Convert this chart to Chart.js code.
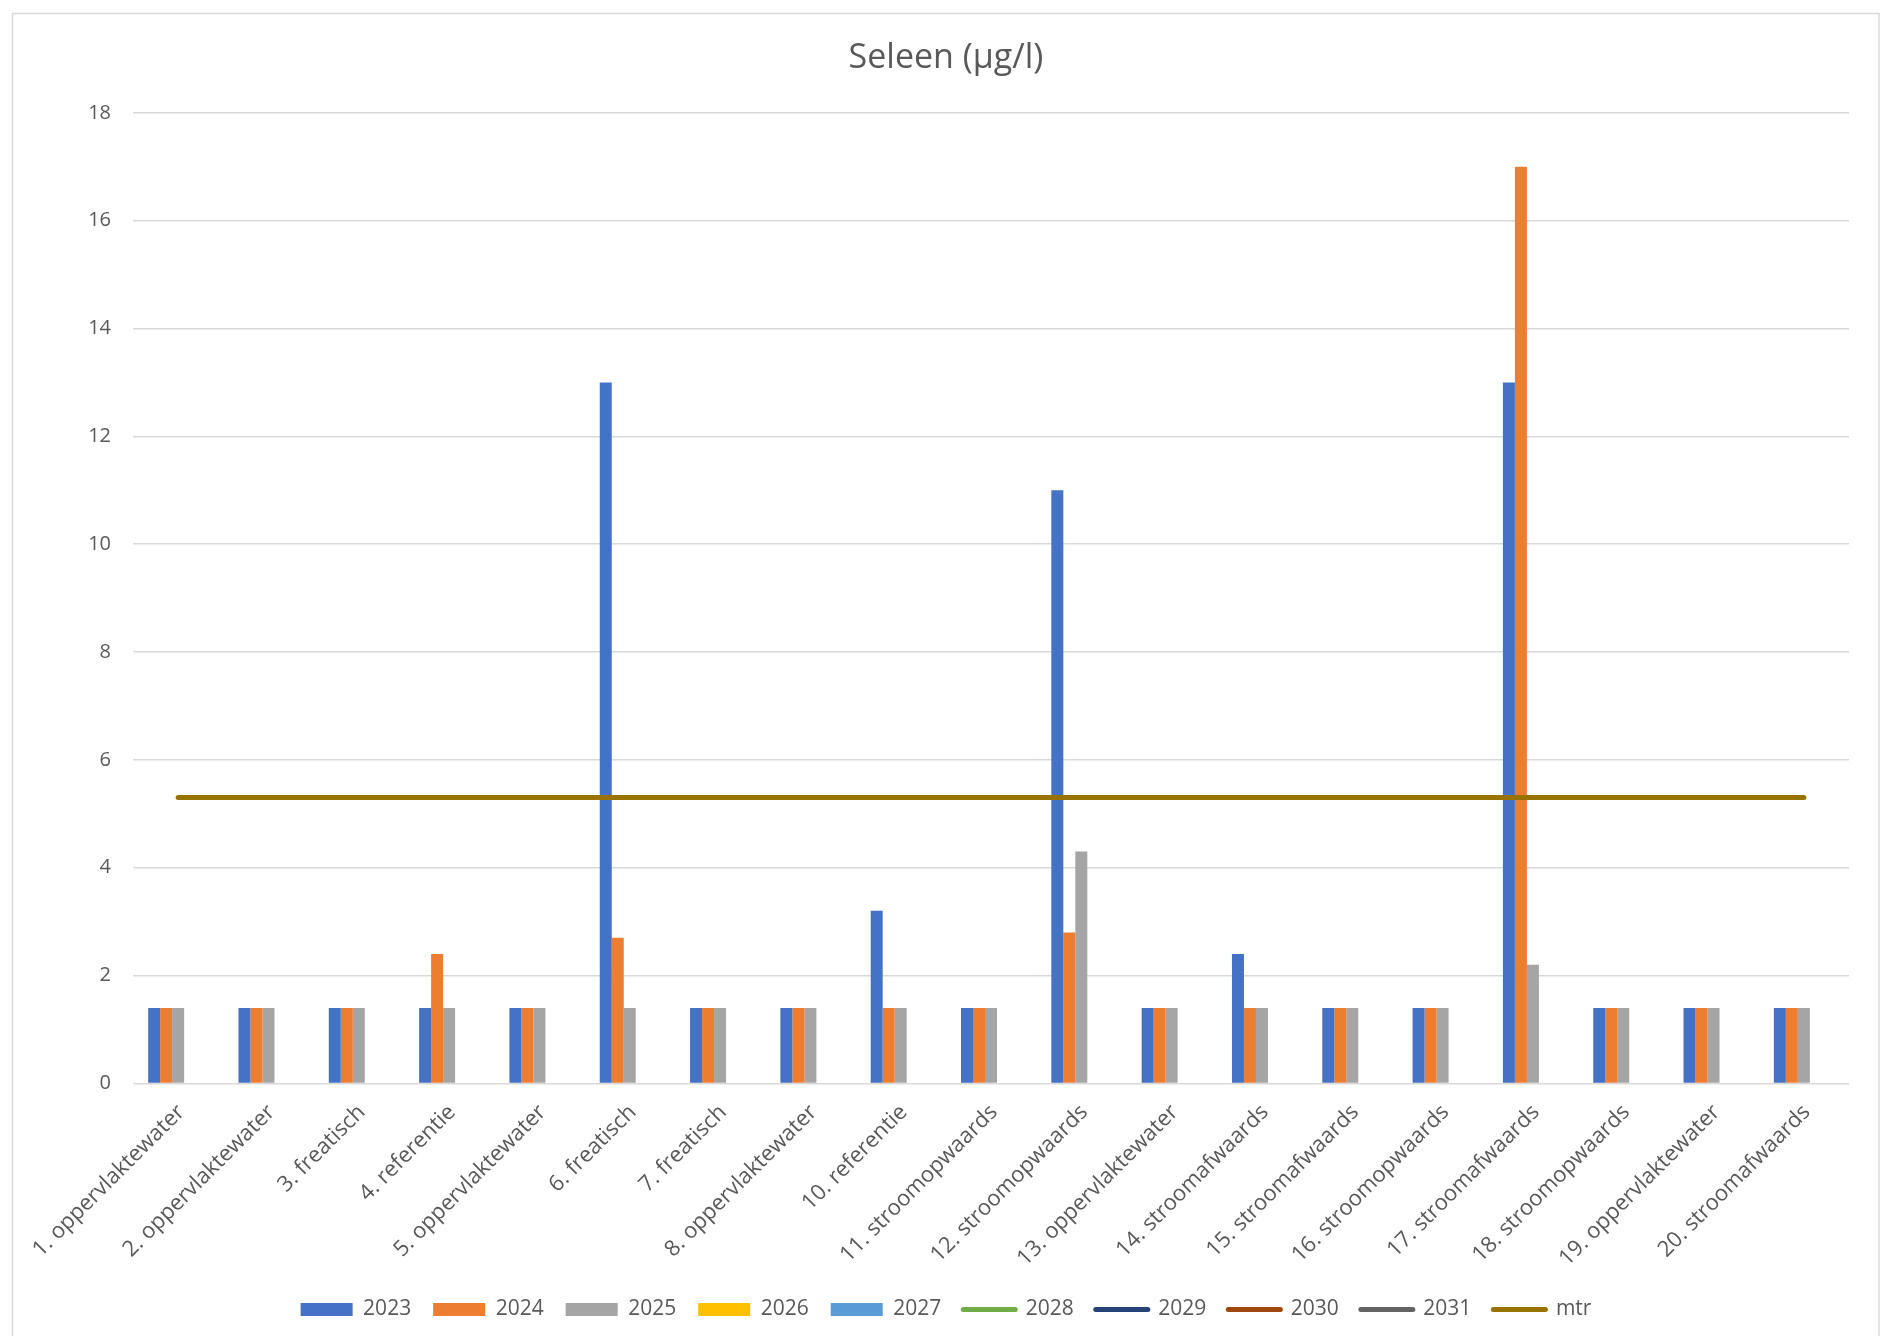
<!DOCTYPE html>
<html>
<head>
<meta charset="utf-8">
<script src="https://cdn.jsdelivr.net/npm/chart.js@4.4.1/dist/chart.umd.min.js"></script>
<style>
html,body{margin:0;padding:0;background:#fff;}
canvas{display:block;}
</style>
</head>
<body>
<canvas id="c" width="1882" height="1336"></canvas>
<script>
const categories = ["1. oppervlaktewater","2. oppervlaktewater","3. freatisch","4. referentie","5. oppervlaktewater","6. freatisch","7. freatisch","8. oppervlaktewater","10. referentie","11. stroomopwaards","12. stroomopwaards","13. oppervlaktewater","14. stroomafwaards","15. stroomafwaards","16. stroomopwaards","17. stroomafwaards","18. stroomopwaards","19. oppervlaktewater","20. stroomafwaards"];
const v2023 = [1.4,1.4,1.4,1.4,1.4,13,1.4,1.4,3.2,1.4,11,1.4,2.4,1.4,1.4,13,1.4,1.4,1.4];
const v2024 = [1.4,1.4,1.4,2.4,1.4,2.7,1.4,1.4,1.4,1.4,2.8,1.4,1.4,1.4,1.4,17,1.4,1.4,1.4];
const v2025 = [1.4,1.4,1.4,1.4,1.4,1.4,1.4,1.4,1.4,1.4,4.3,1.4,1.4,1.4,1.4,2.2,1.4,1.4,1.4];
const v2026 = [];
const v2027 = [];
const v2028 = [];
const v2029 = [];
const v2030 = [];
const v2031 = [];
const mtr = [5.3,5.3,5.3,5.3,5.3,5.3,5.3,5.3,5.3,5.3,5.3,5.3,5.3,5.3,5.3,5.3,5.3,5.3,5.3];
const yTicks = [0,2,4,6,8,10,12,14,16,18];

const FONT = "'Open Sans', sans-serif";
const TXT = '#595959';

function bar(label, data, color) {
  return {type:'bar', label, data, backgroundColor:color, borderWidth:0,
          categoryPercentage:0.664, barPercentage:1.0, order:2};
}
function line(label, data, color) {
  return {type:'line', label, data, borderColor:color, backgroundColor:color, borderWidth:5,
          pointRadius:0, pointHoverRadius:0, fill:false, tension:0, order:1,
          borderCapStyle:'round'};
}

const borderPlugin = {
  id:'outerBorder',
  beforeDraw(chart){
    const ctx = chart.ctx;
    ctx.save();
    ctx.fillStyle='#fff';
    ctx.fillRect(0,0,chart.width,chart.height);
    ctx.strokeStyle='#d9d9d9';
    ctx.lineWidth=1.5;
    ctx.strokeRect(12.5,13.5,1866.5,1340);
    ctx.restore();
  }
};

new Chart(document.getElementById('c'), {
  data:{
    labels:categories,
    datasets:[
      bar('2023', v2023, '#4472C4'),
      bar('2024', v2024, '#ED7D31'),
      bar('2025', v2025, '#A5A5A5'),
      bar('2026', v2026, '#FFC000'),
      bar('2027', v2027, '#5B9BD5'),
      line('2028', v2028, '#70AD47'),
      line('2029', v2029, '#264478'),
      line('2030', v2030, '#9E480E'),
      line('2031', v2031, '#636363'),
      line('mtr', mtr, '#997300')
    ]
  },
  options:{
    responsive:false,
    animation:false,
    devicePixelRatio:1,
    layout:{padding:{left:43,right:33,top:13,bottom:6}},
    plugins:{
      title:{display:true, text:'Seleen (µg/l)', color:TXT,
             font:{family:FONT, size:34, weight:'normal'}, padding:{top:25,bottom:34}},
      legend:{position:'bottom',
        labels:{usePointStyle:true, pointStyleWidth:52, boxHeight:13, padding:22,
                color:TXT, font:{family:FONT, size:21},
                sort:(a,b)=>a.datasetIndex-b.datasetIndex,
                generateLabels(chart){
                  const items = Chart.defaults.plugins.legend.labels.generateLabels(chart);
                  items.forEach(it=>{
                    const ds = chart.data.datasets[it.datasetIndex];
                    if(ds.type==='line'){ it.pointStyle='line'; it.lineWidth=5; it.strokeStyle=ds.borderColor; it.fillStyle=ds.borderColor; it.lineCap='round'; }
                    else { it.pointStyle='rect'; it.lineWidth=0; it.fillStyle=ds.backgroundColor; }
                    it.hidden=false;
                  });
                  return items;
                }}
      },
      tooltip:{enabled:false}
    },
    scales:{
      x:{
        offset:true,
        grid:{display:false},
        border:{display:false},
        ticks:{color:TXT, font:{family:FONT, size:22}, minRotation:45, maxRotation:45, padding:8, labelOffset:3, autoSkip:false},
        afterFit(s){ s.height = 193.6; }
      },
      y:{
        min:0, max:18,
        grid:{color:'#d9d9d9', lineWidth:1.5, drawTicks:false},
        border:{display:false},
        afterBuildTicks(s){ s.ticks = yTicks.map(v=>({value:v})); },
        ticks:{color:TXT, font:{family:FONT, size:20}, padding:22},
        afterFit(s){ s.width = 90; }
      }
    }
  },
  plugins:[borderPlugin]
});
</script>
</body>
</html>
